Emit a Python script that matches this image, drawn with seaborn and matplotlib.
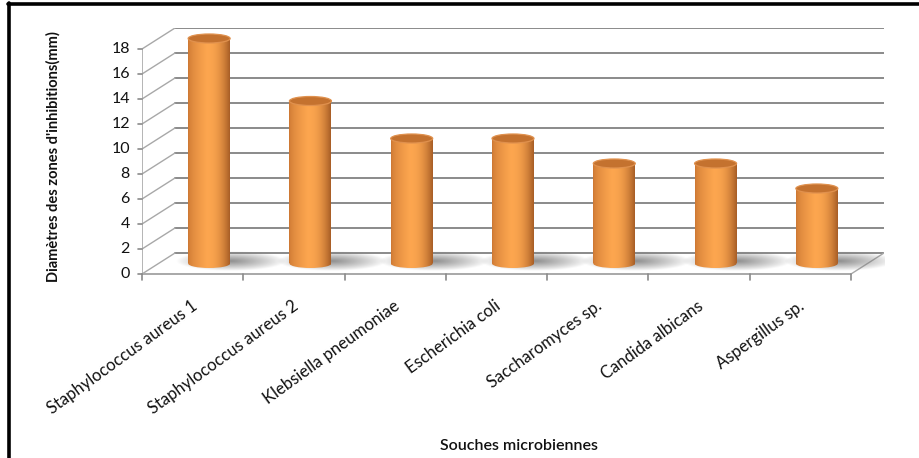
import numpy as np
import pandas as pd
import matplotlib
matplotlib.use("Agg")
import matplotlib.pyplot as plt
from matplotlib.patches import Ellipse
from matplotlib.lines import Line2D
import seaborn as sns

# Data
souches = [
    "Staphylococcus aureus 1",
    "Staphylococcus aureus 2",
    "Klebsiella pneumoniae",
    "Escherichia coli",
    "Saccharomyces sp.",
    "Candida albicans",
    "Aspergillus sp.",
]
diametres = [18, 13, 10, 10, 8, 8, 6]
y_ticks = [0, 2, 4, 6, 8, 10, 12, 14, 16, 18]

df = pd.DataFrame({"souche": souches, "diametre": diametres})

sns.set_theme(style="white")
plt.rcParams["font.family"] = ["Lato", "DejaVu Sans"]

W, H = 920, 458
fig = plt.figure(figsize=(W / 100, H / 100), dpi=100)

# plot box in pixels: front-left corner at x=142, floor at y=274, back wall top at y=28
left_px, right_px, bottom_px, top_px = 142, 884, 274, 28
ax = fig.add_axes([left_px / W, (H - bottom_px) / H,
                   (right_px - left_px) / W, (bottom_px - top_px) / H])

n = len(souches)
px_per_cat = (851 - 142) / n
px_per_unit = (274 - 49) / 18.0
depth_x = 33 / px_per_cat        # depth offset in category units
depth_y = 21 / px_per_unit       # depth offset in value units
bar_w = 42 / px_per_cat

sns.barplot(data=df, x="souche", y="diametre", ax=ax, width=bar_w,
            color="#f29a48", linewidth=0, saturation=1)

ax.set_xlim(-0.5, n - 0.5 + depth_x)
ax.set_ylim(0, 18 + depth_y)
ax.axis("off")

grid_c = "#8a8a8a"
diag_c = "#a8a8a8"
x0, x1 = -0.5, n - 0.5
# back wall gridlines and left wall diagonals
for v in y_ticks:
    ax.add_line(Line2D([x0 + depth_x, x1 + depth_x], [v + depth_y, v + depth_y],
                       color=grid_c, lw=1.4, zorder=0.5))
    ax.add_line(Line2D([x0, x0 + depth_x], [v, v + depth_y],
                       color=diag_c, lw=1.0, zorder=0.5))
    ax.add_line(Line2D([x0 - 0.04, x0], [v, v], color=grid_c, lw=1.2,
                       clip_on=False))
    ax.text(x0 - 0.12, v, str(v), ha="right", va="center", fontsize=11.5,
            color="#111111", clip_on=False)
# front axis line and floor
ax.add_line(Line2D([x0, x0], [0, 18], color=diag_c, lw=1.2, zorder=0.6))
ax.add_line(Line2D([x0, x1], [0, 0], color=diag_c, lw=1.4, zorder=0.6, clip_on=False))
ax.add_line(Line2D([x1, x1 + depth_x], [0, depth_y], color=diag_c, lw=1.0, zorder=0.6))
for k in range(n + 1):
    ax.add_line(Line2D([x0 + k, x0 + k], [0, -0.45], color=grid_c, lw=1.2,
                       clip_on=False))

# cylinder gradient across the width
def side_gradient():
    t = np.linspace(0, 1, 64)
    dark_l = np.array([0.80, 0.47, 0.20])
    light = np.array([0.99, 0.65, 0.31])
    dark_r = np.array([0.66, 0.37, 0.15])
    cols = []
    for s in t:
        if s < 0.45:
            a = (s / 0.45) ** 0.6
            c = dark_l * (1 - a) + light * a
        else:
            a = ((s - 0.45) / 0.55) ** 2.2
            c = light * (1 - a) + dark_r * a
        cols.append(c)
    return np.array(cols)[None, :, :]

grad = side_gradient()
ell_h = 9 / px_per_unit

for p, v in zip(ax.patches[:n], diametres):
    cx = p.get_x() + p.get_width() / 2 + depth_x / 2
    p.set_x(cx - p.get_width() / 2)
    p.set_y(depth_y / 2)
    p.set_zorder(2)
    xl, xr = p.get_x(), p.get_x() + p.get_width()
    yb, yt = depth_y / 2, depth_y / 2 + v

    # soft floor shadow around the base, stretched to the right
    sx = np.linspace(-1, 1, 140)
    sy = np.linspace(-1, 1, 40)
    SX, SY = np.meshgrid(sx, sy)
    r = np.sqrt(SX ** 2 + SY ** 2)
    alpha = np.clip(1 - r, 0, 1) ** 0.9 * 0.85
    shadow = np.zeros((40, 140, 4))
    shadow[..., :3] = 0.48
    shadow[..., 3] = alpha
    ax.imshow(shadow, extent=[xl - 0.12, xr + 0.55, yb - 0.6, yb + 1.0],
              aspect="auto", zorder=1, interpolation="bilinear")

    # body
    img = ax.imshow(grad, extent=[xl, xr, yb, yt], aspect="auto", zorder=2.1,
                    interpolation="bilinear")
    img.set_clip_path(p)
    base = Ellipse((cx, yb), p.get_width(), ell_h, transform=ax.transData,
                   facecolor="none", edgecolor="none")
    ax.add_patch(base)
    img2 = ax.imshow(grad, extent=[xl, xr, yb - ell_h, yb + 0.1], aspect="auto",
                     zorder=2.1, interpolation="bilinear")
    img2.set_clip_path(base)
    # top cap
    ax.add_patch(Ellipse((cx, yt), p.get_width(), ell_h, facecolor="#c4722f",
                         edgecolor="#e0914e", lw=0.9, zorder=2.3))
    p.set_facecolor("none")

# category labels
for i, name in enumerate(souches):
    ax.text(i - 0.02, -1.9, name, rotation=36, ha="right", va="top",
            rotation_mode="anchor", fontsize=12, color="#111111", clip_on=False)

fig.text(519 / W, 1 - 446 / H, "Souches microbiennes", ha="center", va="center",
         fontsize=11.5, fontweight="semibold", color="#111111")
fig.text(53 / W, 1 - 157 / H, "Diamètres des zones d'inhibitions(mm)",
         rotation=90, ha="center", va="center", fontsize=10.5,
         fontweight="bold", color="#111111")

# frame around the chart
fig.add_artist(Line2D([8 / W, 1], [1 - 4 / H, 1 - 4 / H], color="black", lw=2.6,
                      transform=fig.transFigure))
fig.add_artist(Line2D([9.5 / W, 9.5 / W], [0, 1 - 3 / H], color="black", lw=2.6,
                      transform=fig.transFigure))

fig.savefig("out.png", dpi=100, facecolor="white")
